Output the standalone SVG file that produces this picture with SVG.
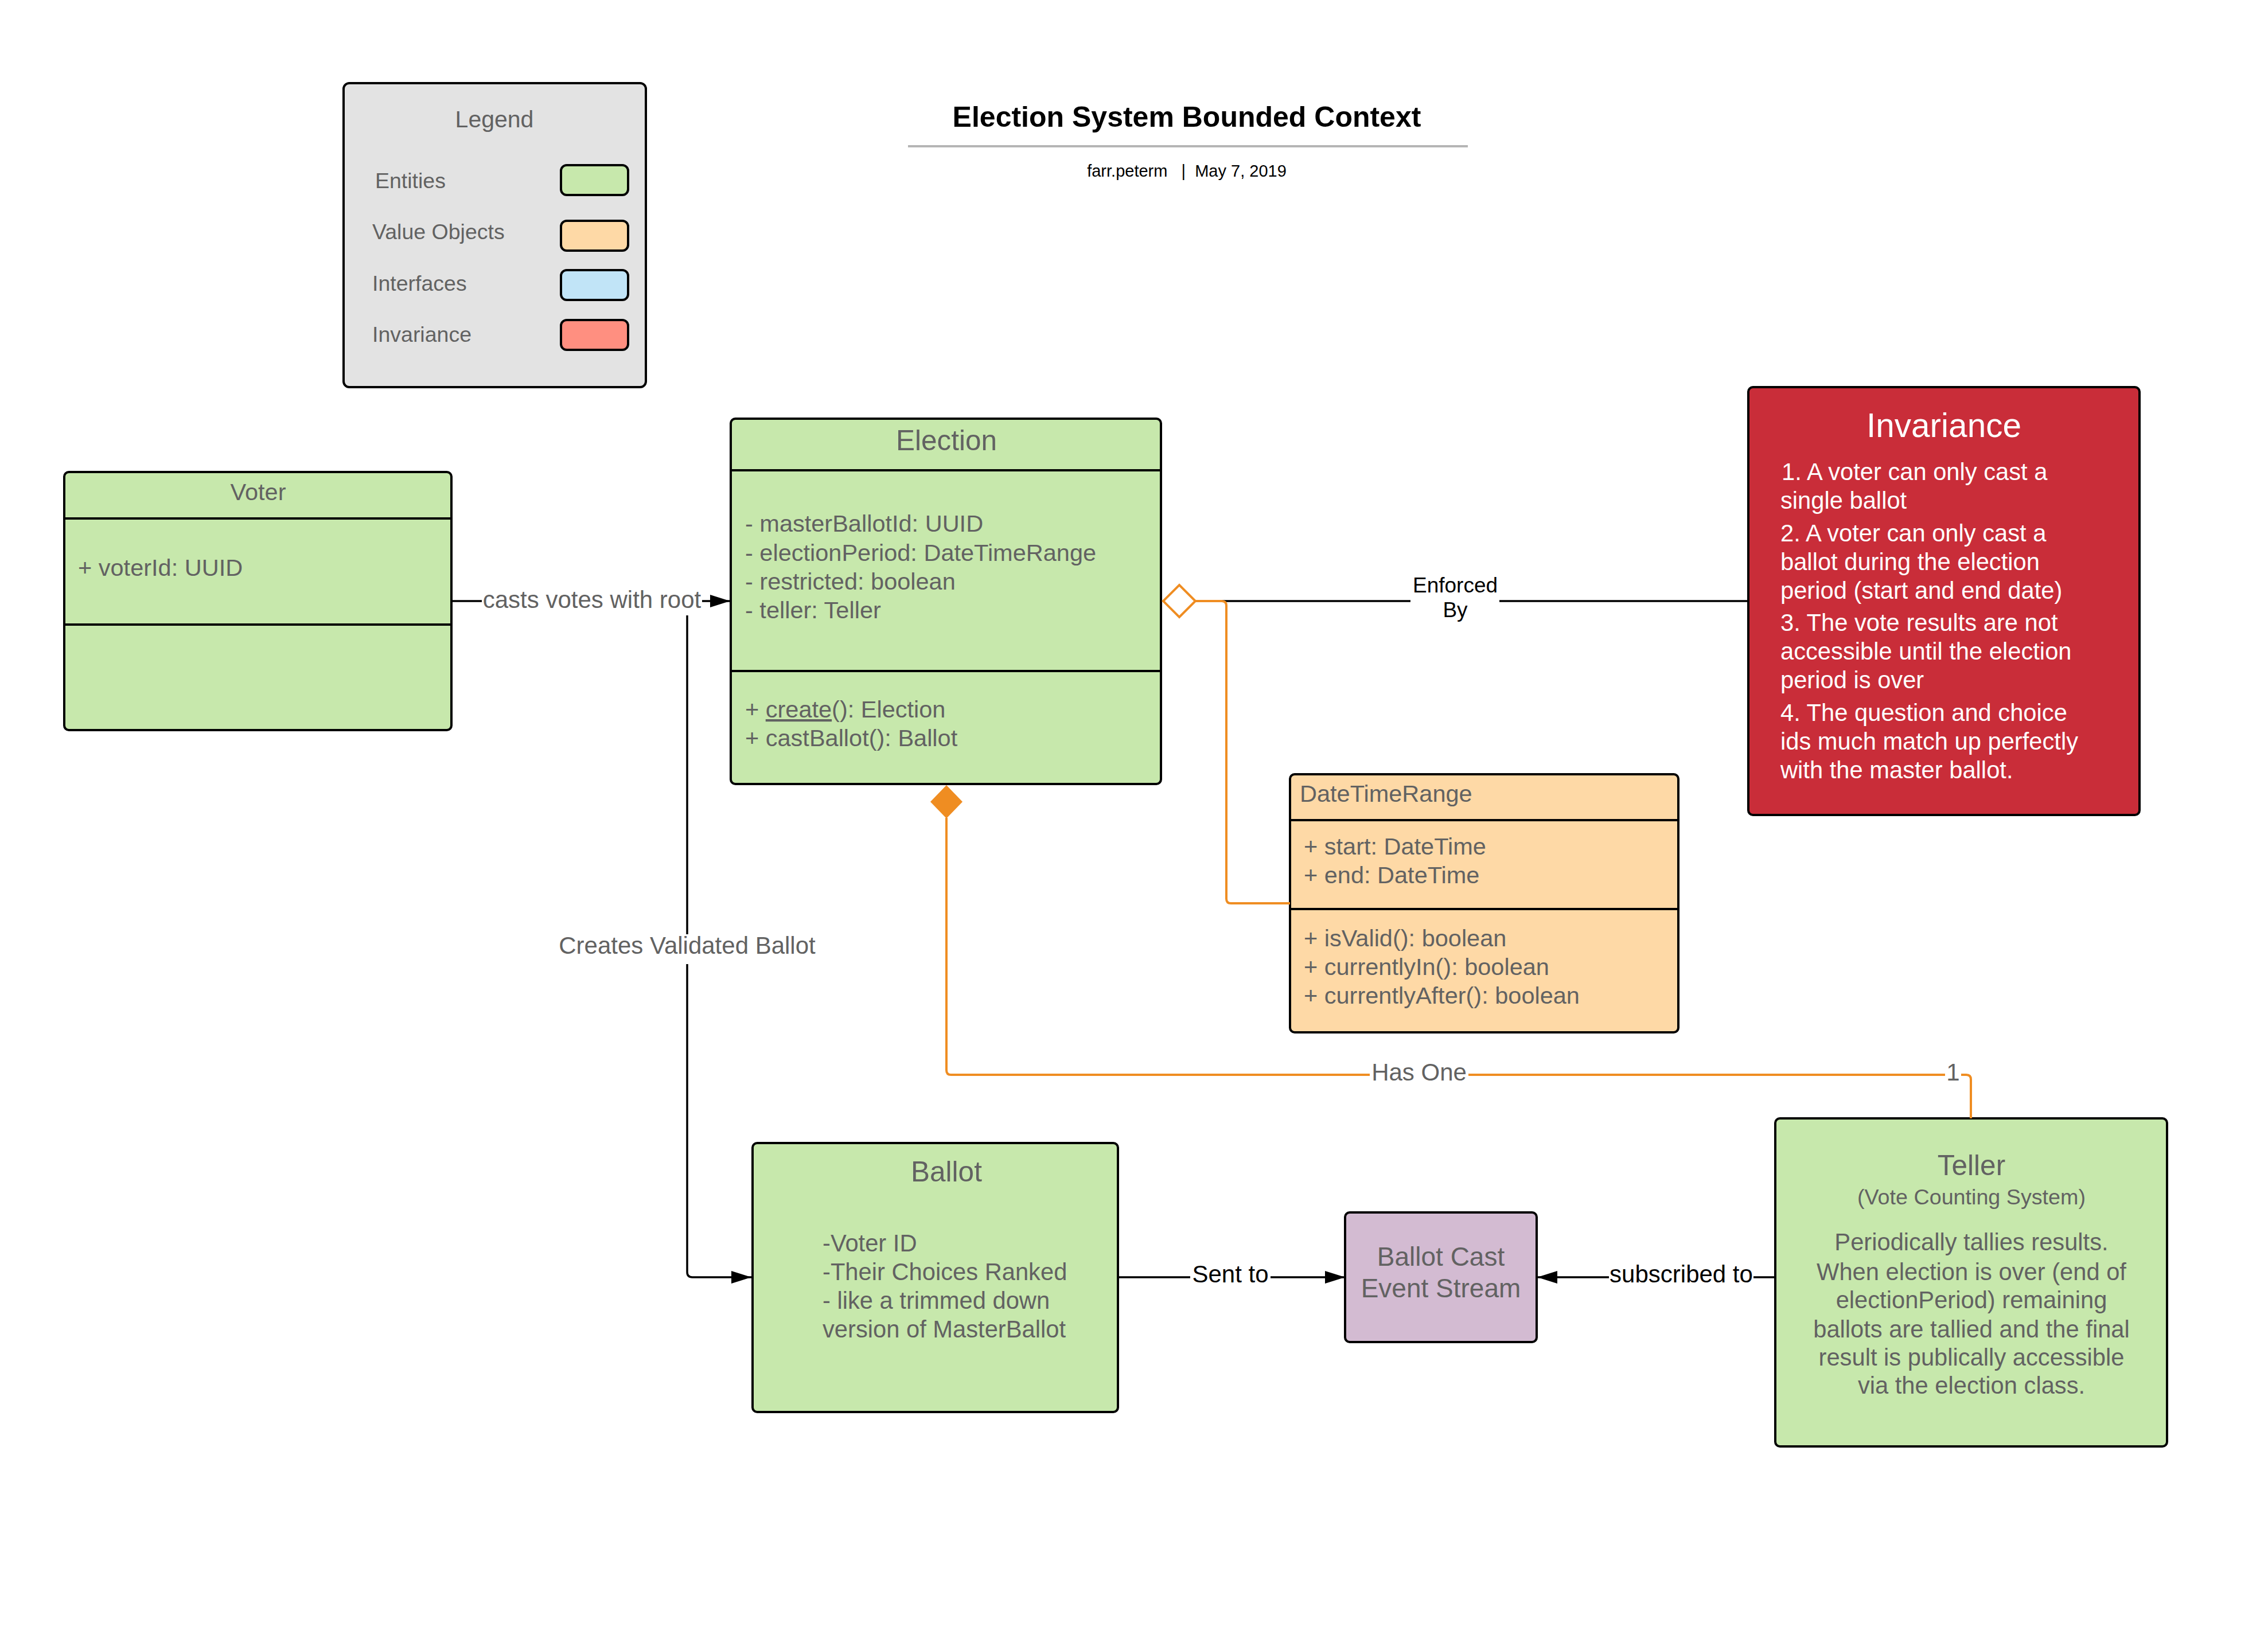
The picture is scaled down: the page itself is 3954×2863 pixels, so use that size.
<svg xmlns="http://www.w3.org/2000/svg" width="3954" height="2863" viewBox="0 0 3954 2863">
<style>
text{font-family:"Liberation Sans",Arial,sans-serif;}
.box{stroke:#000;stroke-width:4;}
.ent{fill:#c7e8ac;}
.div{stroke:#000;stroke-width:4;}
.g{fill:#626262;}
.k{fill:#000;}
.w{fill:#fff;}
.f40{font-size:41.5px;}
.f41{font-size:41.7px;}
.f48{font-size:49.5px;}
.fl{font-size:42px;}
.mid{text-anchor:middle;}
.ln{fill:none;stroke:#000;stroke-width:3.5;}
.or{fill:none;stroke:#ef8d22;stroke-width:4;}
.bg{fill:#fff;}
</style>
<defs>
<marker id="arr" viewBox="0 0 35 22" refX="35" refY="11" markerWidth="35" markerHeight="22" orient="auto" markerUnits="userSpaceOnUse">
<path d="M0 0 L35 11 L0 22 Z" fill="#000"/>
</marker>
</defs>
<rect width="3954" height="2863" fill="#fff"/>

<g id="title">
<text x="2069" y="221" class="mid k" font-size="50" font-weight="bold">Election System Bounded Context</text>
<line x1="1583" y1="255" x2="2559" y2="255" stroke="#b5b5b5" stroke-width="4"/>
<text x="2069" y="308" class="mid k" font-size="29" xml:space="preserve">farr.peterm   |  May 7, 2019</text>
</g>

<g id="legend">
<rect x="599" y="145" width="527" height="530" rx="10" fill="#e3e3e3" class="box"/>
<text x="862" y="222" class="mid g" font-size="41">Legend</text>
<text x="654" y="328" class="g" font-size="37.5">Entities</text>
<rect x="978" y="288" width="117" height="52" rx="10" fill="#c7e8ac" class="box"/>
<text x="649" y="417" class="g" font-size="37.5">Value Objects</text>
<rect x="978" y="385" width="117" height="52" rx="10" fill="#fed9a6" class="box"/>
<text x="649" y="507" class="g" font-size="37.5">Interfaces</text>
<rect x="978" y="471" width="117" height="52" rx="10" fill="#c1e4f7" class="box"/>
<text x="649" y="596" class="g" font-size="37.5">Invariance</text>
<rect x="978" y="558" width="117" height="52" rx="10" fill="#ff8f80" class="box"/>
</g>

<g id="voter">
<rect x="112" y="823" width="675" height="450" rx="8" class="box ent"/>
<line x1="112" y1="904" x2="787" y2="904" class="div"/>
<line x1="112" y1="1089" x2="787" y2="1089" class="div"/>
<text x="450" y="872" class="mid g f40">Voter</text>
<text x="136" y="1004" class="g f40">+ voterId: UUID</text>
</g>

<g id="election">
<rect x="1274" y="730" width="750" height="637" rx="8" class="box ent"/>
<line x1="1274" y1="820" x2="2024" y2="820" class="div"/>
<line x1="1274" y1="1170" x2="2024" y2="1170" class="div"/>
<text x="1650" y="785" class="mid g f48">Election</text>
<text x="1299" y="927" class="g f40">- masterBallotId: UUID</text>
<text x="1299" y="978" class="g f40">- electionPeriod: DateTimeRange</text>
<text x="1299" y="1028" class="g f40">- restricted: boolean</text>
<text x="1299" y="1078" class="g f40">- teller: Teller</text>
<text x="1299" y="1251" class="g f40">+ <tspan text-decoration="underline">create</tspan>(): Election</text>
<text x="1299" y="1301" class="g f40">+ castBallot(): Ballot</text>
</g>

<g id="datetimerange">
<rect x="2249" y="1350" width="677" height="450" rx="8" fill="#fed9a6" class="box"/>
<line x1="2249" y1="1430" x2="2926" y2="1430" class="div"/>
<line x1="2249" y1="1585" x2="2926" y2="1585" class="div"/>
<text x="2266" y="1398" class="g f40">DateTimeRange</text>
<text x="2273" y="1490" class="g f40">+ start: DateTime</text>
<text x="2273" y="1540" class="g f40">+ end: DateTime</text>
<text x="2273" y="1650" class="g f40">+ isValid(): boolean</text>
<text x="2273" y="1700" class="g f40">+ currentlyIn(): boolean</text>
<text x="2273" y="1750" class="g f40">+ currentlyAfter(): boolean</text>
</g>

<g id="invariance">
<rect x="3048" y="675" width="682" height="746" rx="8" fill="#c92d39" class="box"/>
<text x="3389" y="762" class="mid w" font-size="58.5">Invariance</text>
<g class="w f41">
<text x="3106" y="837">1. A voter can only cast a</text>
<text x="3104" y="887">single ballot</text>
<text x="3104" y="944">2. A voter can only cast a</text>
<text x="3104" y="994">ballot during the election</text>
<text x="3104" y="1044">period (start and end date)</text>
<text x="3104" y="1100">3. The vote results are not</text>
<text x="3104" y="1150">accessible until the election</text>
<text x="3104" y="1200">period is over</text>
<text x="3104" y="1257">4. The question and choice</text>
<text x="3104" y="1307">ids much match up perfectly</text>
<text x="3104" y="1357">with the master ballot.</text>
</g>
</g>

<g id="ballot">
<rect x="1312" y="1993" width="637" height="469" rx="8" class="box ent"/>
<text x="1650" y="2060" class="mid g f48">Ballot</text>
<text x="1434" y="2182" class="g f41">-Voter ID</text>
<text x="1434" y="2232" class="g f41">-Their Choices Ranked</text>
<text x="1434" y="2282" class="g f41">- like a trimmed down</text>
<text x="1434" y="2332" class="g f41">version of MasterBallot</text>
</g>

<g id="ballotcast">
<rect x="2345" y="2114" width="334" height="226" rx="8" fill="#d3bbd2" class="box"/>
<text x="2512" y="2207" class="mid g" font-size="46">Ballot Cast</text>
<text x="2512" y="2262" class="mid g" font-size="46">Event Stream</text>
</g>

<g id="teller">
<rect x="3095" y="1950" width="683" height="572" rx="8" class="box ent"/>
<text x="3437" y="2049" class="mid g f48">Teller</text>
<text x="3437" y="2100" class="mid g" font-size="37.7">(Vote Counting System)</text>
<g class="mid g f41">
<text x="3437" y="2180">Periodically tallies results.</text>
<text x="3437" y="2232">When election is over (end of</text>
<text x="3437" y="2281">electionPeriod) remaining</text>
<text x="3437" y="2332">ballots are tallied and the final</text>
<text x="3437" y="2381">result is publically accessible</text>
<text x="3437" y="2430">via the election class.</text>
</g>
</g>

<g id="connectors">
<path d="M787 1048 H1273" class="ln" marker-end="url(#arr)"/>
<rect x="840" y="1022" width="384" height="50" class="bg"/>
<text x="1032" y="1060" class="mid g fl">casts votes with root</text>

<path d="M1198 1073 V2218 Q1198 2227 1207 2227 H1310" class="ln" marker-end="url(#arr)"/>
<rect x="973" y="1629" width="450" height="52" class="bg"/>
<text x="1198" y="1663" class="mid g fl">Creates Validated Ballot</text>

<path d="M2084 1048 H3048" class="ln"/>
<path d="M2084 1048 H2130 Q2138 1048 2138 1056 V1567 Q2138 1575 2146 1575 H2249" class="or"/>
<polygon points="2028,1048 2056,1020 2084,1048 2056,1076" fill="#fff" stroke="#ef8d22" stroke-width="4"/>
<rect x="2459" y="1005" width="155" height="80" class="bg"/>
<text x="2537" y="1033" class="mid k" font-size="37">Enforced</text>
<text x="2537" y="1076" class="mid k" font-size="37">By</text>

<path d="M1650 1426 V1866 Q1650 1874 1658 1874 H3428 Q3436 1874 3436 1882 V1950" class="or"/>
<polygon points="1650,1369 1678,1398 1650,1427 1622,1398" fill="#ef8d22"/>
<rect x="2388" y="1850" width="172" height="46" class="bg"/>
<text x="2474" y="1884" class="mid g fl">Has One</text>
<rect x="3391" y="1850" width="28" height="46" class="bg"/>
<text x="3405" y="1884" class="mid g fl">1</text>

<path d="M1949 2227 H2345" class="ln" marker-end="url(#arr)"/>
<rect x="2075" y="2200" width="140" height="50" class="bg"/>
<text x="2145" y="2236" class="mid k fl">Sent to</text>

<path d="M3095 2227 H2680" class="ln" marker-end="url(#arr)"/>
<rect x="2805" y="2200" width="252" height="50" class="bg"/>
<text x="2931" y="2236" class="mid k fl">subscribed to</text>
</g>
</svg>
